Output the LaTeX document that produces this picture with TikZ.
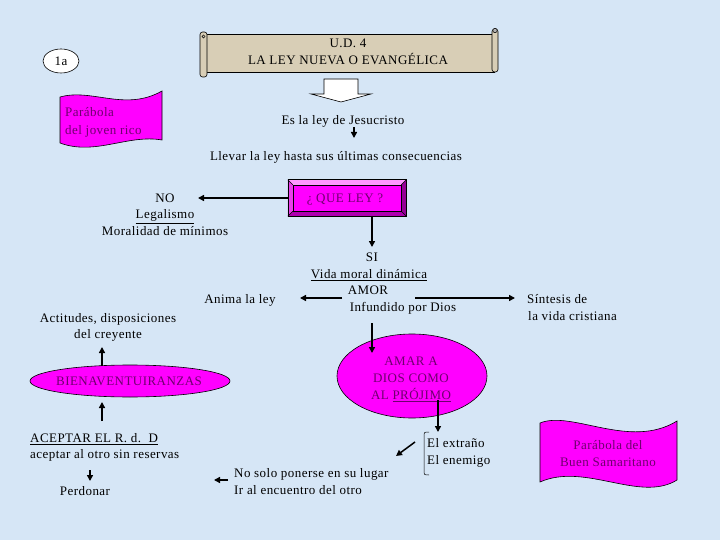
\documentclass[tikz,border=0pt]{standalone}
\usepackage{fontspec}
\setmainfont{Liberation Serif}[LetterSpace=3.5]
\usetikzlibrary{arrows.meta,shapes.geometric,calc}
\definecolor{bgc}{RGB}{214,230,246}
\definecolor{mag}{RGB}{255,0,255}
\definecolor{txtp}{RGB}{110,0,110}
\definecolor{tanc}{RGB}{216,206,182}
\definecolor{bevtop}{RGB}{255,150,255}
\definecolor{bevleft}{RGB}{235,60,235}
\definecolor{bevright}{RGB}{150,0,150}
\definecolor{bevbot}{RGB}{175,0,175}
\begin{document}
\begin{tikzpicture}[x=1pt,y=-1pt,
  every node/.style={font=\fontsize{13}{16.5}\selectfont},
  ln/.style={anchor=base, inner sep=1pt},
  lnw/.style={anchor=base west, inner sep=1pt},
  ptxt/.style={text=txtp},
  arr/.style={line width=1.5pt,-{Triangle[length=6pt,width=6pt]}},
  flag/.style={fill=mag, draw=black, line width=0.6pt},
  outl/.style={draw=black, line width=0.6pt}]
\useasboundingbox (0,0) rectangle (720,540);
\fill[bgc] (0,0) rectangle (720,540);

% 1a
\node[ellipse, outl, fill=white, minimum width=36pt, minimum height=24pt, inner sep=0pt] (one) at (61,61) {1a};

% scroll
\draw[outl, fill=tanc] (205,34) rectangle (494,72);
\draw[outl, fill=tanc, rounded corners=2.5pt] (200,32) rectangle (207,77);
\draw[line width=0.5pt] (203.5,36.5) circle (1.6);
\draw[outl, fill=tanc, rounded corners=2.5pt] (492,29) rectangle (498,72);
\draw[line width=0.5pt, fill=gray!60] (495,30.5) circle (2.2);
\node[ln] (ud) at (348,47.5) {U.D. 4};
\node[ln] (ley) at (348,64.5) {LA LEY NUEVA O EVANGÉLICA};

% block arrow
\draw[outl, fill=white] (324,79) -- (358,79) -- (358,94) -- (371,94) -- (341,102) -- (311,94) -- (324,94) -- cycle;

% flag joven rico
\draw[flag] (60,97) .. controls (92,88) and (125,112) .. (162,91) -- (162,140)
   .. controls (128,134) and (95,156) .. (60,143) -- cycle;
\node[lnw, ptxt] (par1) at (64,117) {Parábola};
\node[lnw, ptxt] (par2) at (64,134.5) {del joven rico};

% Es la ley
\node[ln] (jesus) at (343,124.5) {Es la ley de Jesucristo};
\node[ln] (llevar) at (336,160.5) {Llevar la ley hasta sus últimas consecuencias};
\coordinate (j1) at (354,127.5);
\coordinate (j2) at (354,138);
\draw[arr] (j1) -- (j2);

% QUE LEY box
\node[minimum width=118pt, minimum height=36pt, inner sep=0pt] (que) at (347,198) {};
\fill[mag] ($(que.north west)+(5,5)$) rectangle ($(que.south east)+(-5,-5)$);
\fill[bevtop] (que.north west) -- (que.north east) -- ($(que.north east)+(-5,5)$) -- ($(que.north west)+(5,5)$) -- cycle;
\fill[bevleft] (que.north west) -- ($(que.north west)+(5,5)$) -- ($(que.south west)+(5,-5)$) -- (que.south west) -- cycle;
\fill[bevright] (que.north east) -- (que.south east) -- ($(que.south east)+(-5,-5)$) -- ($(que.north east)+(-5,5)$) -- cycle;
\fill[bevbot] (que.south west) -- (que.south east) -- ($(que.south east)+(-5,-5)$) -- ($(que.south west)+(5,-5)$) -- cycle;
\draw[outl] (que.north west) rectangle (que.south east);
\draw[line width=0.4pt] ($(que.north west)+(5,5)$) rectangle ($(que.south east)+(-5,-5)$);
\draw[line width=0.4pt] (que.north west) -- ($(que.north west)+(5,5)$);
\draw[line width=0.4pt] (que.north east) -- ($(que.north east)+(-5,5)$);
\draw[line width=0.4pt] (que.south west) -- ($(que.south west)+(5,-5)$);
\draw[line width=0.4pt] (que.south east) -- ($(que.south east)+(-5,-5)$);
\node[ln, ptxt] (quetxt) at (345,202.5) {¿ QUE LEY ?};

% NO block
\node[ln] (no) at (165,202.5) {NO};
\node[ln] (legal) at (165,218.5) {\underline{Legalismo}};
\node[ln] (moral) at (165,235.5) {Moralidad de mínimos};
\coordinate (noend) at (198,198);
\draw[arr] (que.west) -- (noend);

% SI block
\node[ln] (si) at (372,261.5) {SI};
\node[ln] (vida) at (369,278.5) {\underline{Vida moral dinámica}};
\node[ln] (amor) at (368,294.5) {AMOR};
\node[ln] (infund) at (403,311.5) {Infundido por Dios};
\coordinate (q1) at (372,216);
\coordinate (q2) at (372,247);
\draw[arr] (q1) -- (q2);

\node[ln] (anima) at (240,303.5) {Anima la ley};
\coordinate (a1) at (342,298);
\coordinate (a2) at (300,298);
\draw[arr] (a1) -- (a2);

\node[lnw] (sint1) at (526,303.5) {Síntesis de};
\node[lnw] (sint2) at (527,320.5) {la vida cristiana};
\coordinate (s1) at (415,298);
\coordinate (s2) at (515,298);
\draw[arr] (s1) -- (s2);

% AMAR ellipse
\node[ellipse, flag, minimum width=150pt, minimum height=84pt, inner sep=0pt] (amar) at (412,376) {};
\node[ln, ptxt] (am1) at (411,365.5) {AMAR A};
\node[ln, ptxt] (am2) at (411,382.5) {DIOS COMO};
\node[ln, ptxt] (am3) at (411,399.5) {AL \underline{PRÓJIMO}};
\coordinate (v1) at (372,323);
\coordinate (v2) at (372,353);
\draw[arr] (v1) -- (v2);

% extraño / enemigo
\node[lnw] (ext) at (426,447.5) {El extraño};
\node[lnw] (ene) at (426,464.5) {El enemigo};
\draw[line width=0.5pt] (429,432) .. controls (424,432) .. (424,437) -- (424,470) .. controls (424,475) .. (429,475);
\coordinate (p1) at (438,400);
\coordinate (p2) at (438,432);
\draw[arr] (p1) -- (p2);
\coordinate (d1) at (415,442);
\coordinate (d2) at (396,456);
\draw[arr] (d1) -- (d2);

% no solo
\node[lnw] (nosolo) at (233,477.5) {No solo ponerse en su lugar};
\node[lnw] (iral) at (233,494.5) {Ir al encuentro del otro};
\coordinate (n1) at (228,480);
\coordinate (n2) at (214,480);
\draw[arr] (n1) -- (n2);

% left column
\node[ln] (act1) at (108,322.5) {Actitudes, disposiciones};
\node[ln] (act2) at (108,338.5) {del creyente};
\node[ellipse, flag, minimum width=200pt, minimum height=32pt, inner sep=0pt] (bien) at (130,381) {};
\node[ln, ptxt] (bientxt) at (129,385.5) {BIENAVENTUIRANZAS};
\coordinate (b1) at (102,366);
\coordinate (b2) at (102,347);
\draw[arr] (b1) -- (b2);
\coordinate (c1) at (102,421);
\coordinate (c2) at (102,402);
\draw[arr] (c1) -- (c2);
\node[lnw] (acep1) at (29,442.5) {\underline{ACEPTAR EL R. d.\ \ D}};
\node[lnw] (acep2) at (29,458.5) {aceptar al otro sin reservas};
\node[ln] (perd) at (85,495.5) {Perdonar};
\coordinate (e1) at (90,470);
\coordinate (e2) at (90,481);
\draw[arr] (e1) -- (e2);

% flag samaritano
\draw[flag] (540,423) .. controls (572,410) and (630,450) .. (677,421) -- (677,480)
   .. controls (640,503) and (585,462) .. (540,482) -- cycle;
\node[ln, ptxt] (sam1) at (608,449.5) {Parábola del};
\node[ln, ptxt] (sam2) at (608,466.5) {Buen Samaritano};
\end{tikzpicture}
\end{document}
